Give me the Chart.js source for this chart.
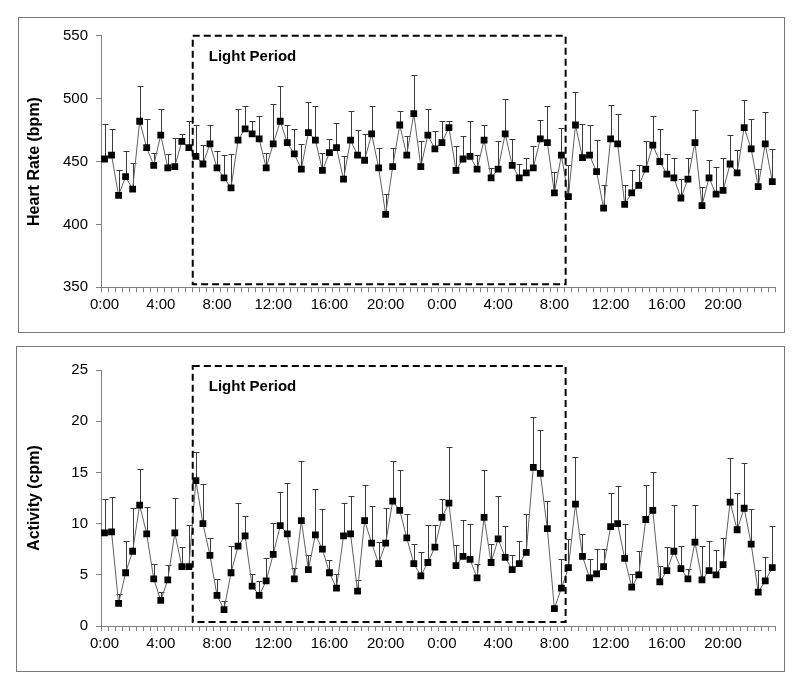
<!DOCTYPE html>
<html>
<head>
<meta charset="utf-8">
<script src="https://cdn.jsdelivr.net/npm/chart.js@4.4.1/dist/chart.umd.min.js"></script>
<style>
  body { margin: 0; background: #fff; width: 800px; height: 686px; position: relative; overflow: hidden; }
  .panel { position: absolute; border: 1px solid #777; box-sizing: border-box; background: #fff; }
  #p1 { left: 18px; width: 767px; top: 17px; height: 316px; }
  #p2 { left: 16px; width: 769px; top: 346px; height: 326px; }
  canvas { display: block; }
</style>
</head>
<body>
<div class="panel" id="p1"><canvas id="hrChart" width="765" height="314"></canvas></div>
<div class="panel" id="p2"><canvas id="actChart" width="767" height="324"></canvas></div>
<script>
// half-hour bins over two days
const times = [];
for (let d = 0; d < 2; d++) {
  for (let h = 0; h < 24; h++) {
    times.push(h + ':00');
    times.push(h + ':30');
  }
}
const tickLabels = ['0:00', '4:00', '8:00', '12:00', '16:00', '20:00',
                    '0:00', '4:00', '8:00', '12:00', '16:00', '20:00'];

const heartRate = [
  452, 455, 423, 438, 428, 482, 461, 447, 471, 445, 446, 466, 461, 454, 448, 464,
  445, 437, 429, 467, 476, 472, 468, 445, 464, 482, 465, 456, 444, 473, 467, 443,
  457, 461, 436, 467, 455, 451, 472, 445, 408, 446, 479, 455, 488, 446, 471, 460,
  465, 477, 443, 452, 454, 444, 467, 437, 444, 472, 447, 437, 441, 445, 468, 465,
  425, 455, 422, 479, 453, 455, 442, 413, 468, 464, 416, 425, 431, 444, 463, 450,
  440, 437, 421, 436, 465, 415, 437, 424, 427, 448, 441, 477, 460, 430, 464, 434
];
const heartRateErr = [
  28, 21, 20, 20, 21, 28, 23, 10, 21, 11, 23, 6, 21, 25, 15, 15,
  13, 18, 27, 25, 18, 10, 18, 12, 32, 28, 14, 20, 20, 24, 27, 14,
  11, 20, 18, 23, 20, 21, 22, 16, 16, 15, 11, 15, 31, 20, 21, 14,
  17, 5, 19, 18, 28, 11, 12, 8, 22, 28, 21, 11, 12, 17, 15, 29,
  17, 22, 25, 26, 27, 24, 25, 18, 27, 24, 15, 18, 16, 22, 23, 26,
  16, 16, 15, 17, 26, 15, 14, 22, 26, 23, 18, 22, 24, 14, 25, 26
];

const activity = [
  9.1, 9.2, 2.2, 5.2, 7.3, 11.8, 9.0, 4.6, 2.5, 4.5, 9.1, 5.8, 5.8, 14.2, 10.0, 6.9,
  3.0, 1.6, 5.2, 7.8, 8.8, 3.9, 3.0, 4.4, 7.0, 9.8, 9.0, 4.6, 10.3, 5.5, 8.9, 7.5,
  5.2, 3.7, 8.8, 9.0, 3.4, 10.3, 8.1, 6.1, 8.1, 12.2, 11.3, 8.6, 6.1, 4.9, 6.2, 7.7,
  10.6, 12.0, 5.9, 6.8, 6.5, 4.7, 10.6, 6.2, 8.5, 6.7, 5.5, 6.1, 7.2, 15.5, 14.9, 9.5,
  1.7, 3.7, 5.7, 11.9, 6.8, 4.7, 5.1, 5.8, 9.7, 10.0, 6.6, 3.8, 5.0, 10.4, 11.3, 4.3,
  5.4, 7.3, 5.6, 4.6, 8.2, 4.5, 5.4, 5.0, 6.0, 12.1, 9.4, 11.5, 8.0, 3.3, 4.4, 5.7
];
const activityErr = [
  3.3, 3.4, 0.9, 3.1, 4.2, 3.5, 2.6, 1.5, 0.8, 1.5, 3.4, 1.9, 4.1, 2.8, 3.9, 1.7,
  1.6, 0.8, 2.6, 4.2, 1.9, 1.2, 1.4, 2.2, 3.1, 3.3, 5.0, 1.1, 5.8, 1.4, 4.5, 3.9,
  1.2, 1.4, 3.2, 3.7, 1.1, 3.5, 3.6, 2.1, 3.4, 3.9, 3.9, 2.3, 1.9, 2.3, 3.7, 2.2,
  1.8, 5.5, 2.0, 3.6, 3.5, 1.4, 4.6, 1.8, 4.2, 3.1, 1.4, 2.2, 3.7, 4.9, 4.2, 2.7,
  0.1, 2.8, 2.8, 4.6, 2.2, 1.8, 2.4, 1.7, 3.3, 3.7, 3.4, 1.3, 2.3, 3.4, 3.7, 1.6,
  2.3, 4.5, 2.2, 1.0, 3.6, 3.3, 2.9, 2.4, 2.6, 4.3, 3.6, 4.4, 3.4, 2.2, 2.3, 4.1
];

// light period, in half-hour bin units
const lightStart = 12.55;
const lightEnd = 65.6;

Chart.defaults.font.family = '"Liberation Sans", Arial, sans-serif';
Chart.defaults.color = '#000';

const errorBars = {
  id: 'errorBars',
  beforeDatasetsDraw(chart, args, opts) {
    const meta = chart.getDatasetMeta(0);
    const yScale = chart.scales.y;
    const values = chart.data.datasets[0].data;
    const ctx = chart.ctx;
    ctx.save();
    ctx.strokeStyle = '#3a3a3a';
    ctx.lineWidth = 1;
    meta.data.forEach((pt, i) => {
      const x = Math.round(pt.x) + 0.5;
      const top = Math.round(yScale.getPixelForValue(values[i] + opts.errors[i])) + 0.5;
      ctx.beginPath();
      ctx.moveTo(x, pt.y);
      ctx.lineTo(x, top);
      ctx.moveTo(x - 3, top);
      ctx.lineTo(x + 3, top);
      ctx.stroke();
    });
    ctx.restore();
  }
};

const lightBox = {
  id: 'lightBox',
  afterDatasetsDraw(chart, args, opts) {
    const xs = chart.scales.x, ys = chart.scales.y;
    const l = xs.getPixelForValue(lightStart), r = xs.getPixelForValue(lightEnd);
    const t = ys.getPixelForValue(opts.top), b = ys.getPixelForValue(opts.bottom);
    const ctx = chart.ctx;
    ctx.save();
    ctx.strokeStyle = '#000';
    ctx.lineWidth = 2;
    ctx.setLineDash([7, 4]);
    ctx.strokeRect(l, t, r - l, b - t);
    ctx.setLineDash([]);
    ctx.fillStyle = '#000';
    ctx.font = 'bold 15px "Liberation Sans", Arial, sans-serif';
    ctx.textBaseline = 'middle';
    ctx.fillText('Light Period', l + 16, t + 21);
    ctx.restore();
  }
};

function makeChart(id, values, errors, yMin, yMax, step, title, box, padTop, yWidth, xHeight) {
  return new Chart(document.getElementById(id), {
    type: 'line',
    data: {
      labels: times,
      datasets: [{
        data: values,
        borderColor: '#606060',
        borderWidth: 1,
        tension: 0,
        pointStyle: 'rect',
        pointRadius: 4.8,
        pointBorderWidth: 0,
        pointBackgroundColor: '#000',
        pointBorderColor: '#000'
      }]
    },
    options: {
      responsive: false,
      animation: false,
      events: [],
      layout: { padding: { top: padTop, right: 8.2, left: 0, bottom: 0 } },
      plugins: {
        legend: { display: false },
        tooltip: { enabled: false },
        errorBars: { errors: errors },
        lightBox: box
      },
      scales: {
        x: {
          type: 'category',
          offset: true,
          grid: { offset: true, drawOnChartArea: false, tickLength: 5, color: '#808080' },
          border: { color: '#808080' },
          ticks: {
            autoSkip: false,
            maxRotation: 0,
            padding: 4,
            font: { size: 15 },
            callback: (v, i) => (i % 8 === 0 ? tickLabels[i / 8] : '')
          },
          afterFit: s => { s.height = xHeight; }
        },
        y: {
          min: yMin,
          max: yMax,
          ticks: { stepSize: step, padding: 8, font: { size: 15 } },
          grid: { drawOnChartArea: false, tickLength: 5, color: '#808080' },
          border: { color: '#808080' },
          title: {
            display: true,
            text: title,
            font: { size: 16, weight: 'bold' },
            padding: { top: 6 + yWidth - 82, bottom: 0 }
          },
          afterFit: s => { s.width = yWidth; }
        }
      }
    },
    plugins: [errorBars, lightBox]
  });
}

makeChart('hrChart', heartRate, heartRateErr, 350, 550, 50, 'Heart Rate (bpm)',
  { top: 550, bottom: 352.4 }, 17.7, 82, 44.7);
makeChart('actChart', activity, activityErr, 0, 25, 5, 'Activity (cpm)',
  { top: 25.4, bottom: 0.4 }, 23, 84, 45);
</script>
</body>
</html>
